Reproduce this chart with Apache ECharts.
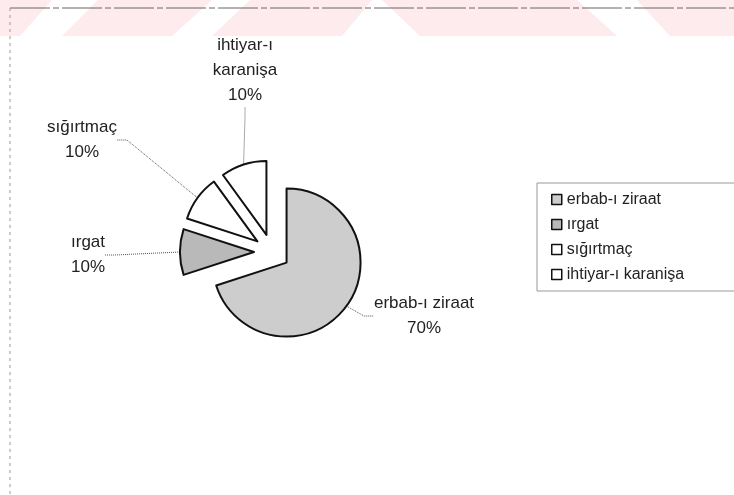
<!DOCTYPE html>
<html>
<head>
<meta charset="utf-8">
<script src="https://cdn.jsdelivr.net/npm/echarts@6/dist/echarts.min.js"></script>
<style>
  html, body { margin: 0; padding: 0; background: #fff; }
  #chart { width: 734px; height: 495px; }
</style>
</head>
<body>
<div id="chart"></div>
<script>
// kategoriler ve yüzdeler
var categories = ['erbab-ı ziraat', 'ırgat', 'sığırtmaç', 'ihtiyar-ı karanişa'];
var labelTexts = ['erbab-ı ziraat', 'ırgat', 'sığırtmaç', 'ihtiyar-ı\nkaranişa'];
var shares = [70, 10, 10, 10];

var sliceColors = ['#cdcdcd', '#b9b9b9', '#ffffff', '#ffffff'];
// etiket merkezleri (ekran pikseli)
var labelPos = [[424, 316], [88, 255], [82, 140], [245, 70]];

var pieCenter = [272, 252];
var explode = 18;

var chart = echarts.init(document.getElementById('chart'));

var total = shares.reduce(function (a, b) { return a + b; }, 0);

// her dilim ayrı bir seride, orta açısı yönünde dışarı kaydırılmış
var series = [];
var acc = 0;
categories.forEach(function (name, k) {
    var mid = (90 - (acc + shares[k] / 2) / total * 360) * Math.PI / 180;
    acc += shares[k];
    var cx = pieCenter[0] + explode * Math.cos(mid);
    var cy = pieCenter[1] - explode * Math.sin(mid);
    series.push({
        type: 'pie',
        center: [cx, cy],
        radius: 74,
        startAngle: 90,
        clockwise: true,
        emphasis: { disabled: true },
        data: shares.map(function (v, i) {
            if (i === k) {
                return { name: name, value: v, itemStyle: { color: sliceColors[i] } };
            }
            return {
                name: '', value: v,
                itemStyle: { color: 'rgba(0,0,0,0)', borderWidth: 0 },
                label: { show: false },
                labelLine: { show: false }
            };
        }),
        itemStyle: { borderColor: '#111', borderWidth: 2 },
        label: {
            show: true,
            position: 'outside',
            fontSize: 17,
            lineHeight: 25,
            color: '#222',
            align: 'center',
            formatter: function (p) {
                return labelTexts[p.dataIndex] + '\n' + p.value + '%';
            }
        },
        labelLine: {
            show: true,
            length: 10,
            length2: 10,
            lineStyle: { color: '#555', width: 1, type: 'dotted' }
        },
        labelLayout: function (params) {
            var p = labelPos[params.dataIndex];
            return { x: p[0], y: p[1], align: 'center', verticalAlign: 'middle' };
        }
    });
});

// arka plandaki soluk filigran
var pink = '#fdebed';
var marks = [
    [[0, 0], [52, 0], [20, 36], [0, 36]],
    [[98, 0], [212, 0], [172, 36], [62, 36]],
    [[250, 0], [372, 0], [342, 36], [212, 36]],
    [[382, 0], [577, 0], [617, 36], [420, 36]],
    [[637, 0], [734, 0], [734, 36], [670, 36]]
].map(function (pts) {
    return { type: 'polygon', z: -10, shape: { points: pts }, style: { fill: pink }, silent: true };
});

chart.setOption({
    backgroundColor: '#fff',
    animation: false,
    textStyle: { fontFamily: 'Liberation Sans, Arial, sans-serif' },
    graphic: marks.concat([
        { type: 'line', z: -5, shape: { x1: 10, y1: 8, x2: 734, y2: 8 },
          style: { stroke: '#666', lineWidth: 1, lineDash: [40, 3, 6, 3] } },
        { type: 'line', z: -5, shape: { x1: 10, y1: 8, x2: 10, y2: 495 },
          style: { stroke: '#999', lineWidth: 1, lineDash: [3, 4] } }
    ]),
    legend: {
        orient: 'vertical',
        left: 537,
        top: 183,
        padding: [8, 60, 8, 14],
        itemGap: 8,
        itemWidth: 10,
        itemHeight: 10,
        icon: 'rect',
        borderColor: '#999',
        borderWidth: 1,
        selectedMode: false,
        data: categories,
        itemStyle: { borderColor: '#111', borderWidth: 1.5 },
        textStyle: { fontSize: 16, lineHeight: 17, color: '#222' }
    },
    series: series
});
</script>
</body>
</html>
